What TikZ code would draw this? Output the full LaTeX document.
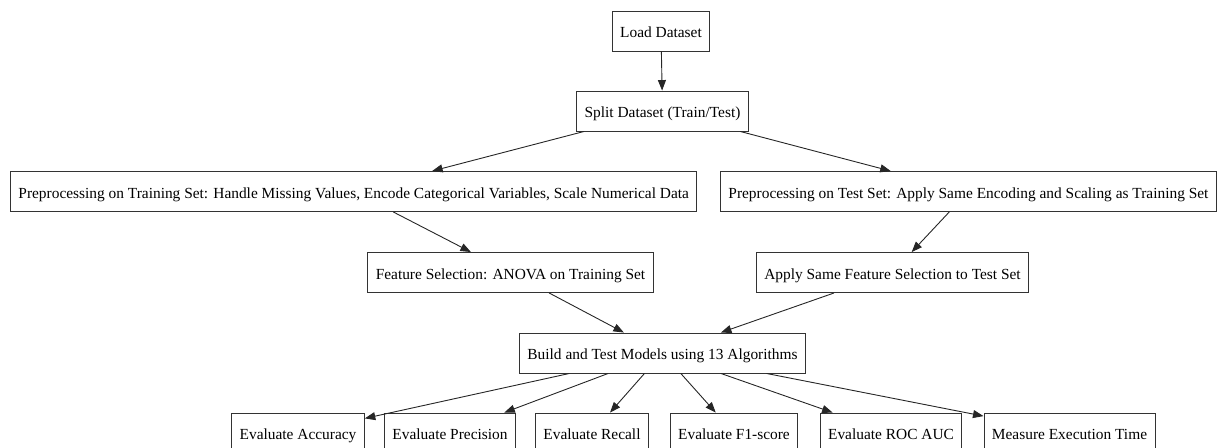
\documentclass[tikz,border=0pt]{standalone}
\usepackage{fontspec}
\setmainfont{Liberation Serif}
\usetikzlibrary{arrows.meta}
\begin{document}
\begin{tikzpicture}[x=1pt,y=-1pt,
  stepbox/.style={draw=black!80, line width=0.9pt, rectangle, minimum height=40pt,
    inner xsep=8pt, inner ysep=0pt, text height=14pt, text depth=1pt,
    font=\fontsize{15.4}{18}\selectfont, text=black},
  flow/.style={draw=black!85, line width=0.9pt, -{Triangle[length=10.5pt,width=8pt]}}]
\useasboundingbox (0,0) rectangle (1220,447);
\clip (0,0) rectangle (1220,447);

% pipeline stages
\node[stepbox] (load)  at (661,31)    {Load Dataset};
\node[stepbox] (split) at (662.5,111) {Split Dataset (Train/Test)};
\node[stepbox, anchor=west] (pretrain) at (10,191.5)
  {Preprocessing on Training Set: Handle Missing Values, Encode Categorical Variables, Scale Numerical Data};
\node[stepbox, anchor=west] (pretest) at (720,191.5)
  {Preprocessing on Test Set: Apply Same Encoding and Scaling as Training Set};
\node[stepbox] (feat)  at (510.5,272.5) {Feature Selection: ANOVA on Training Set};
\node[stepbox] (apply) at (892.5,272.5) {Apply Same Feature Selection to Test Set};
\node[stepbox] (build) at (662.5,353) {Build and Test Models using 13 Algorithms};

% evaluation metrics
\node[stepbox] (acc)  at (298,433)    {Evaluate Accuracy};
\node[stepbox] (prec) at (450,433)    {Evaluate Precision};
\node[stepbox] (rec)  at (592,433)    {Evaluate Recall};
\node[stepbox] (f1)   at (734,433)    {Evaluate F1-score};
\node[stepbox] (roc)  at (891,433)    {Evaluate ROC AUC};
\node[stepbox] (time) at (1069.5,433) {Measure Execution Time};

% connectors
\draw[flow] (load) -- (split);
\draw[flow] (split) -- (pretrain);
\draw[flow] (split) -- (pretest);
\draw[flow] (pretrain) -- (feat);
\draw[flow] (pretest) -- (apply);
\draw[flow] (feat) -- (build);
\draw[flow] (apply) -- (build);
\foreach \m in {acc,prec,rec,f1,roc,time}
  \draw[flow] (build) -- (\m);
\end{tikzpicture}
\end{document}
